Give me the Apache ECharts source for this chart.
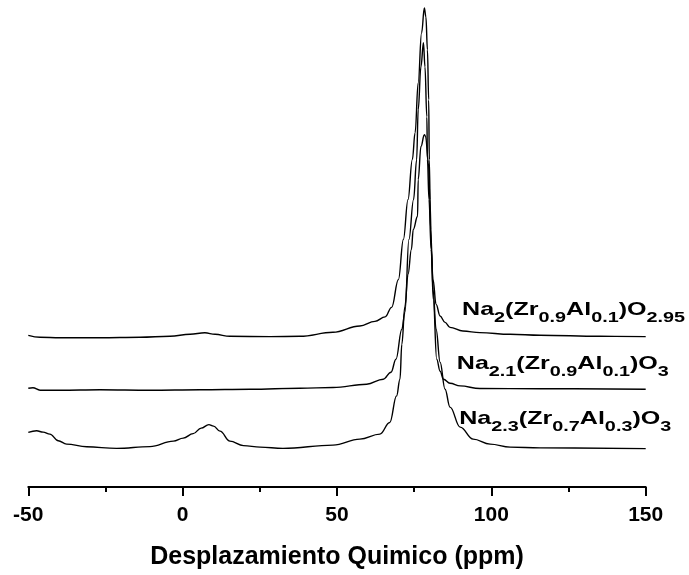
<!DOCTYPE html>
<html>
<head>
<meta charset="utf-8">
<script src="https://cdn.jsdelivr.net/npm/echarts@6/dist/echarts.min.js"></script>
<style>
  html, body { margin: 0; padding: 0; background: #fff; }
  #chart { width: 689px; height: 575px; }
</style>
</head>
<body>
<div id="chart"></div>
<script>
// 23Na MAS-NMR spectra, stacked with a vertical offset (arbitrary intensity units)
const xTicks = [-50, 0, 50, 100, 150];

// Na2(Zr0.9Al0.1)O2.95
const shiftA = [-50, -46.2, -39.7, -26.8, -13.8, -4.1, 2.4, 7.2, 10.5, 15.3, 28.3, 38.0, 48.7, 57.4, 62.3, 65.6, 67.7, 69.9, 71.5, 73.0, 74.4, 75.3, 76.3, 77.4, 78.3, 78.8, 79.3, 79.7, 79.9, 80.3, 81.1, 82.1, 83.4, 85.0, 86.6, 90.8, 96.3, 106.1, 115.8, 135.2, 150];
const intensA = [152, 150, 149.5, 149.5, 150, 151, 153, 154.5, 153, 151, 150.7, 151, 155, 161.3, 166, 170.5, 180, 208, 248, 288, 328, 355, 405, 455, 480, 471, 438, 388, 328, 258, 208, 183, 171.3, 165, 160, 156.3, 154.7, 153, 152, 151, 150.7];

// Na2.1(Zr0.9Al0.1)O3
const shiftB = [-50, -48.5, -46.2, -39.7, -26.8, -10.6, 5.6, 21.8, 38.0, 48.7, 59.6, 65.0, 67.5, 69.1, 71.0, 72.0, 73.3, 74.8, 75.8, 76.3, 77.2, 78.0, 78.5, 79.1, 79.3, 79.8, 80.5, 81.2, 82.3, 83.4, 84.5, 86.6, 89.9, 96.3, 115.8, 150];
const intensB = [99, 99.5, 97, 97, 97.5, 97, 97.5, 98, 99, 99.7, 103, 108, 115, 128, 158, 175, 248, 288, 328, 378, 421.3, 445.3, 421, 371, 328, 288, 238, 188, 128, 116, 108, 104, 101.3, 98.7, 98.5, 98];

// Na2.3(Zr0.7Al0.3)O3
const shiftC = [-50, -47.3, -45.2, -43.0, -40.3, -37.6, -31.1, -21.4, -10.6, -3.0, 0.2, 3.4, 6.0, 8.5, 10.0, 12.1, 15.3, 19.7, 25.1, 32.5, 48.7, 57.4, 63.9, 67.1, 69.3, 70.4, 71.0, 72.0, 73.0, 74.1, 74.7, 76.1, 76.3, 77.2, 78.3, 78.7, 79.6, 80.1, 80.6, 81.1, 82.1, 83.4, 85.0, 86.6, 89.9, 94.1, 99.6, 106.1, 115.8, 150];
const intensC = [54.7, 56.3, 55, 53, 46.3, 43, 40.3, 38.7, 40.5, 46, 49, 53.5, 59, 62.5, 61, 56, 46, 41.5, 40, 38.7, 42, 48, 53, 64.7, 91.3, 108, 143, 181, 213, 238, 258, 271.3, 308, 341.3, 353, 351.3, 325, 288, 238, 198, 158, 125, 98, 80, 60, 48, 43, 40, 39.2, 38.5];

// Formula labels drawn with sub-scripted stoichiometry
const labelNames = ['Na2(Zr0.9Al0.1)O2.95', 'Na2.1(Zr0.9Al0.1)O3', 'Na2.3(Zr0.7Al0.3)O3'];
const labelRich = [
  '{n|Na}{s|2}{n|(Zr}{s|0.9}{n|Al}{s|0.1}{n|)O}{s|2.95}',
  '{n|Na}{s|2.1}{n|(Zr}{s|0.9}{n|Al}{s|0.1}{n|)O}{s|3}',
  '{n|Na}{s|2.3}{n|(Zr}{s|0.7}{n|Al}{s|0.3}{n|)O}{s|3}'
];
// anchor of each label's top-left corner, in (shift, intensity) coordinates
const labelAnchor = [[90.5, 187], [88.8, 133], [89.6, 78]];

const FONT = '"Liberation Sans", Arial, Helvetica, sans-serif';

function pairs(xs, ys) {
  return xs.map((x, i) => [x, ys[i]]);
}

function trace(name, xs, ys) {
  return {
    name: name,
    type: 'line',
    data: pairs(xs, ys),
    showSymbol: false,
    smooth: 0.4,
    smoothMonotone: 'x',
    lineStyle: { color: '#000', width: 1.4 },
    silent: true,
    animation: false
  };
}

const chart = echarts.init(document.getElementById('chart'), null, { renderer: 'canvas' });

chart.setOption({
  animation: false,
  backgroundColor: '#fff',
  grid: { left: 28.3, right: 43.3, top: 0, bottom: 86.7, containLabel: false },
  xAxis: {
    type: 'value',
    min: xTicks[0],
    max: xTicks[xTicks.length - 1],
    interval: 50,
    axisLine: { show: true, lineStyle: { color: '#000', width: 2 } },
    axisTick: { show: true, length: 9, lineStyle: { color: '#000', width: 2 } },
    minorTick: { show: true, splitNumber: 2, length: 5, lineStyle: { color: '#000', width: 2 } },
    splitLine: { show: false },
    axisLabel: {
      color: '#000', fontSize: 21, fontWeight: 'bold', fontFamily: FONT, margin: 18
    },
    name: 'Desplazamiento Quimico (ppm)',
    nameLocation: 'middle',
    nameGap: 58,
    nameTextStyle: { color: '#000', fontSize: 25, fontWeight: 'bold', fontFamily: FONT }
  },
  yAxis: {
    type: 'value',
    min: 0,
    max: 488,
    show: false
  },
  series: [
    trace(labelNames[0], shiftA, intensA),
    trace(labelNames[1], shiftB, intensB),
    trace(labelNames[2], shiftC, intensC)
  ]
});

// main glyphs carry bottom padding, subscripts carry the same top padding,
// so the subscript baseline sits lower than the main baseline
const SUB_DROP = 8;
const rich = {
  n: { fontSize: 19, fontWeight: 'bold', fontFamily: FONT, fill: '#000', padding: [0, 0, SUB_DROP, 0] },
  s: { fontSize: 15, fontWeight: 'bold', fontFamily: FONT, fill: '#000', padding: [SUB_DROP, 0, 0, 0] }
};
const graphics = labelRich.map((txt, i) => {
  const p = chart.convertToPixel({ gridIndex: 0 }, labelAnchor[i]);
  return {
    type: 'text',
    x: p[0],
    y: p[1],
    scaleX: 1.32,
    silent: true,
    style: {
      text: txt,
      x: 0,
      y: 0,
      align: 'left',
      verticalAlign: 'top',
      rich: rich,
      fill: '#000'
    }
  };
});
chart.setOption({ graphic: graphics });
</script>
</body>
</html>
